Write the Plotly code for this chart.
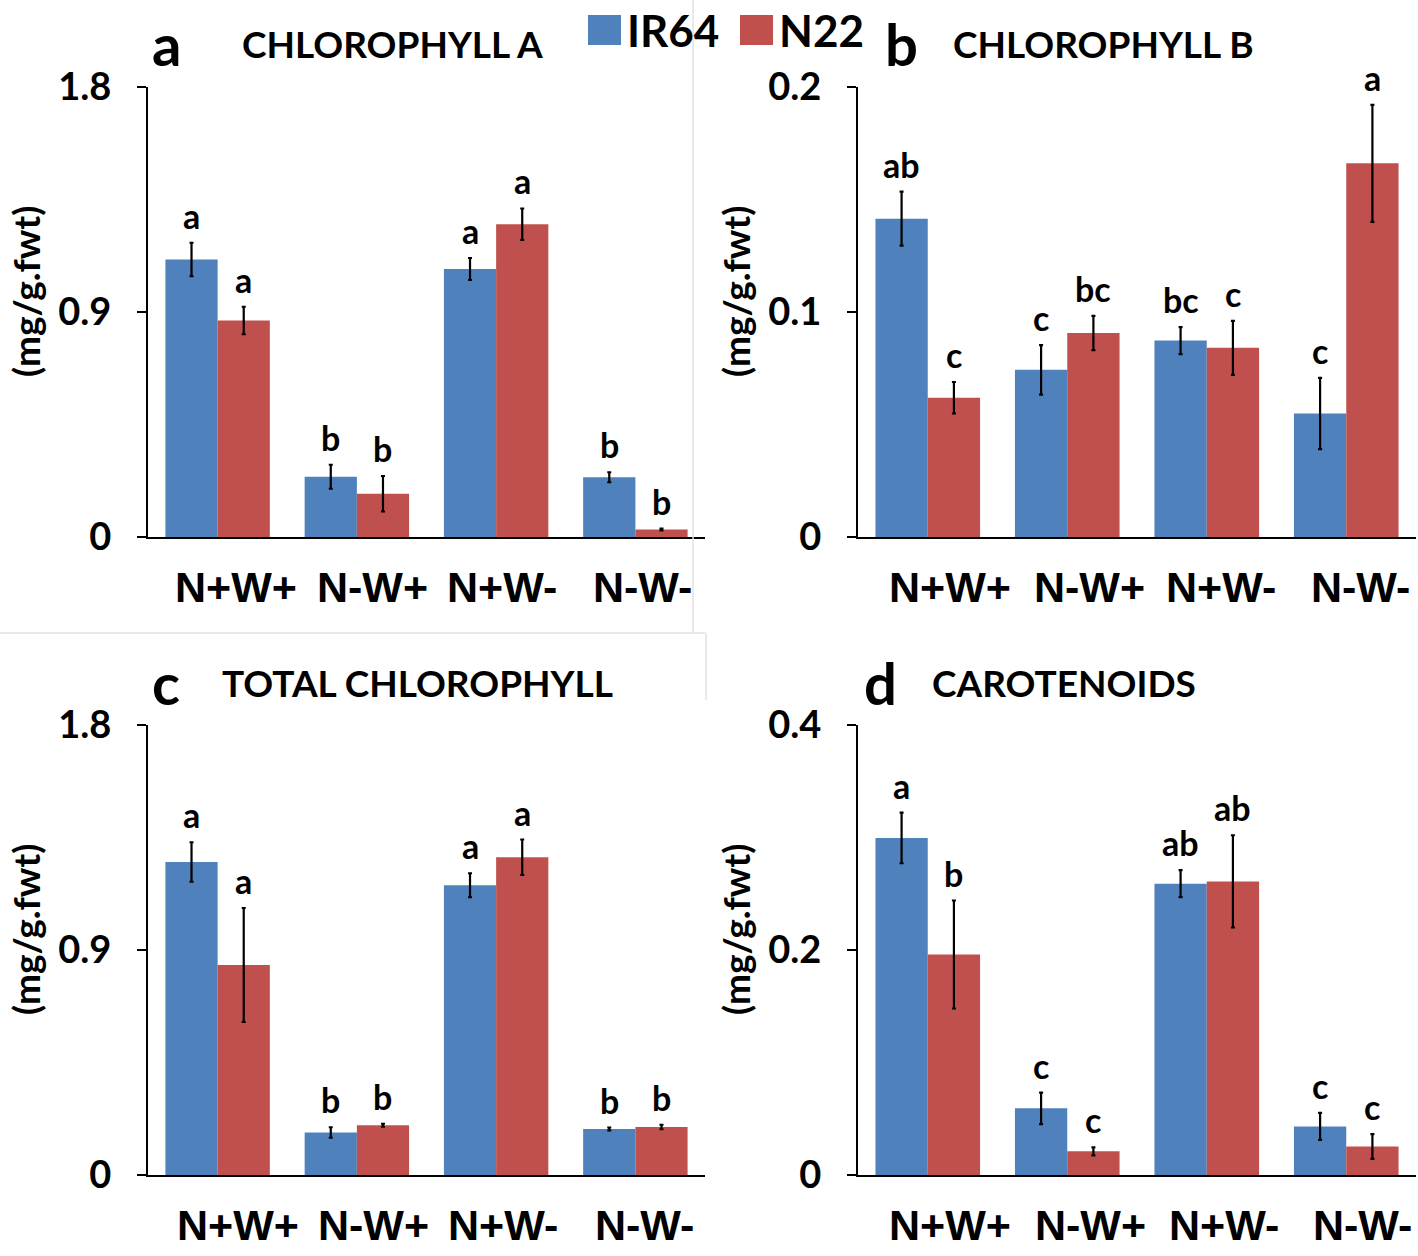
import plotly.graph_objects as go

# ---------------- data ----------------
categories = ["N+W+", "N-W+", "N+W-", "N-W-"]
series_names = ["IR64", "N22"]

chla_ir64 = [1.110, 0.241, 1.072, 0.239]
chla_ir64_err = [0.067, 0.048, 0.044, 0.020]
chla_n22 = [0.866, 0.173, 1.251, 0.030]
chla_n22_err = [0.055, 0.071, 0.063, 0.004]
chla_ir64_sig = ["a", "b", "a", "b"]
chla_n22_sig = ["a", "b", "a", "b"]

chlb_ir64 = [0.1415, 0.0743, 0.0873, 0.0549]
chlb_ir64_err = [0.0120, 0.0110, 0.0060, 0.0158]
chlb_n22 = [0.0619, 0.0907, 0.0841, 0.1661]
chlb_n22_err = [0.0070, 0.0076, 0.0120, 0.0260]
chlb_ir64_sig = ["ab", "c", "bc", "c"]
chlb_n22_sig = ["c", "bc", "c", "a"]

total_ir64 = [1.252, 0.170, 1.159, 0.184]
total_ir64_err = [0.079, 0.021, 0.048, 0.006]
total_n22 = [0.840, 0.199, 1.271, 0.192]
total_n22_err = [0.228, 0.006, 0.071, 0.009]
total_ir64_sig = ["a", "b", "a", "b"]
total_n22_sig = ["a", "b", "a", "b"]

car_ir64 = [0.2996, 0.0593, 0.2590, 0.0432]
car_ir64_err = [0.0225, 0.0140, 0.0120, 0.0120]
car_n22 = [0.1960, 0.0210, 0.2610, 0.0254]
car_n22_err = [0.0480, 0.0036, 0.0410, 0.0110]
car_ir64_sig = ["a", "c", "ab", "c"]
car_n22_sig = ["b", "c", "ab", "c"]

panel_letters = ["a", "b", "c", "d"]
panel_titles = ["CHLOROPHYLL A", "CHLOROPHYLL B", "TOTAL CHLOROPHYLL", "CAROTENOIDS"]
y_ticks = [[0, 0.9, 1.8], [0, 0.1, 0.2], [0, 0.9, 1.8], [0, 0.2, 0.4]]
y_ticktext = [["0", "0.9", "1.8"], ["0", "0.1", "0.2"], ["0", "0.9", "1.8"], ["0", "0.2", "0.4"]]
y_title = "(mg/g.fwt)"

# ---------------- styling ----------------
W, H = 1418, 1256
BLUE = "#4F81BD"
RED = "#C0504D"
NUM_FONT = "Lato"
LBL_FONT = "Liberation Sans"

panels = [
    dict(ir=chla_ir64, ire=chla_ir64_err, n=chla_n22, ne=chla_n22_err, irs=chla_ir64_sig, ns=chla_n22_sig),
    dict(ir=chlb_ir64, ire=chlb_ir64_err, n=chlb_n22, ne=chlb_n22_err, irs=chlb_ir64_sig, ns=chlb_n22_sig),
    dict(ir=total_ir64, ire=total_ir64_err, n=total_n22, ne=total_n22_err, irs=total_ir64_sig, ns=total_n22_sig),
    dict(ir=car_ir64, ire=car_ir64_err, n=car_n22, ne=car_n22_err, irs=car_ir64_sig, ns=car_n22_sig),
]

# pixel boxes of the plot areas: (left, right, top, bottom)
boxes = [(148, 705, 87, 537), (858, 1416, 87, 537), (148, 705, 725, 1175), (858, 1416, 725, 1175)]
# per-panel pixel offsets of the header texts and category labels (as in the source image)
letter_dx = [2, 25, 2, 4]
title_dx = [92, 93, 72, 72]
label_shift = [[18, 16, 6, 7], [22, 22, 14, 14], [20, 17, 7, 9], [22, 23, 17, 16]]

fig = go.Figure()
annotations = []
shapes = []
bargap = 0.25
bar_w = (1 - bargap) / 2

for i, p in enumerate(panels):
    sfx = "" if i == 0 else str(i + 1)
    xa, ya = "x" + sfx, "y" + sfx
    for name, vals, errs, color in [("IR64", p["ir"], p["ire"], BLUE), ("N22", p["n"], p["ne"], RED)]:
        fig.add_trace(go.Bar(
            x=categories, y=vals, name=name, marker=dict(color=color, line=dict(width=0)),
            error_y=dict(type="data", array=errs, visible=True, color="black", thickness=2.2, width=2),
            xaxis=xa, yaxis=ya, showlegend=False,
        ))
    # significance letters
    for k in range(len(categories)):
        for off, vals, errs, sig in [(-bar_w / 2, p["ir"], p["ire"], p["irs"]), (bar_w / 2, p["n"], p["ne"], p["ns"])]:
            annotations.append(dict(
                x=k + off, y=vals[k] + errs[k], xref=xa, yref=ya, text="<b>%s</b>" % sig[k],
                showarrow=False, yanchor="bottom", yshift=5,
                font=dict(family=NUM_FONT, size=34, color="black"),
            ))
    l, r, t, b = boxes[i]
    # category labels
    for k, c in enumerate(categories):
        annotations.append(dict(
            x=k, y=1 - (b + 50) / H, xref=xa, yref="paper", text="<b>%s</b>" % c,
            showarrow=False, xanchor="center", yanchor="middle", xshift=label_shift[i][k],
            font=dict(family=LBL_FONT, size=43, color="black"),
        ))
    fig.layout["xaxis" + sfx] = dict(
        domain=[l / W, r / W], anchor=ya, type="category", range=[-0.5, 3.5],
        showline=True, linecolor="black", linewidth=2, ticks="", showgrid=False,
        showticklabels=False, fixedrange=True, automargin=False,
    )
    fig.layout["yaxis" + sfx] = dict(
        domain=[1 - b / H, 1 - t / H], anchor=xa, range=[0, y_ticks[i][-1]],
        tickvals=y_ticks[i], ticktext=["<b>%s</b>" % s for s in y_ticktext[i]],
        showline=True, linecolor="black", linewidth=2, ticks="outside", ticklen=9,
        tickwidth=2, tickcolor="black", showgrid=False, zeroline=False,
        tickfont=dict(family=NUM_FONT, size=38, color="black"), ticklabelstandoff=18,
        fixedrange=True, automargin=False,
    )
    # y axis title (rotated)
    annotations.append(dict(
        x=(l - 123) / W, y=1 - ((t + b) / 2 - 20) / H, xref="paper", yref="paper",
        text="<b>%s</b>" % y_title, textangle=-90, showarrow=False,
        font=dict(family=NUM_FONT, size=37, color="black"), xanchor="center", yanchor="middle",
    ))
    # panel letter + title
    annotations.append(dict(
        x=(l + letter_dx[i]) / W, y=1 - (t - 43) / H, xref="paper", yref="paper",
        text="<b>%s</b>" % panel_letters[i], showarrow=False, xanchor="left", yanchor="middle",
        font=dict(family=NUM_FONT, size=58, color="black"),
    ))
    annotations.append(dict(
        x=(l + title_dx[i]) / W, y=1 - (t - 43) / H, xref="paper", yref="paper",
        text="<b>%s</b>" % panel_titles[i], showarrow=False, xanchor="left", yanchor="middle",
        font=dict(family=NUM_FONT, size=37, color="black"),
    ))

# legend (manual)
leg_items = [(588, BLUE, series_names[0]), (740, RED, series_names[1])]
for x0, col, name in leg_items:
    shapes.append(dict(type="rect", xref="paper", yref="paper",
                       x0=x0 / W, x1=(x0 + 33) / W, y0=1 - 45 / H, y1=1 - 15 / H,
                       fillcolor=col, line=dict(width=0)))
    annotations.append(dict(
        x=(x0 + 37) / W, y=1 - 30 / H, xref="paper", yref="paper", text="<b>%s</b>" % name,
        showarrow=False, xanchor="left", yanchor="middle",
        font=dict(family=NUM_FONT, size=44, color="black"),
    ))

# faint composition borders seen in the image
faint = "#e2e2e2"
shapes += [
    dict(type="line", xref="paper", yref="paper", x0=693 / W, x1=693 / W, y0=1 - 632 / H, y1=1, line=dict(color=faint, width=1.5)),
    dict(type="line", xref="paper", yref="paper", x0=0, x1=705 / W, y0=1 - 633 / H, y1=1 - 633 / H, line=dict(color=faint, width=1.5)),
    dict(type="line", xref="paper", yref="paper", x0=706 / W, x1=706 / W, y0=1 - 700 / H, y1=1 - 633 / H, line=dict(color=faint, width=1.5)),
]

fig.update_layout(
    template="none",
    width=W, height=H, margin=dict(l=0, r=0, t=0, b=0, autoexpand=False),
    paper_bgcolor="white", plot_bgcolor="white",
    barmode="group", bargap=bargap, bargroupgap=0,
    annotations=annotations, shapes=shapes, showlegend=False,
)

fig.write_html("out.html", config={"displayModeBar": False},
               post_script="document.body.style.margin='0px';document.body.style.overflow='hidden';")
